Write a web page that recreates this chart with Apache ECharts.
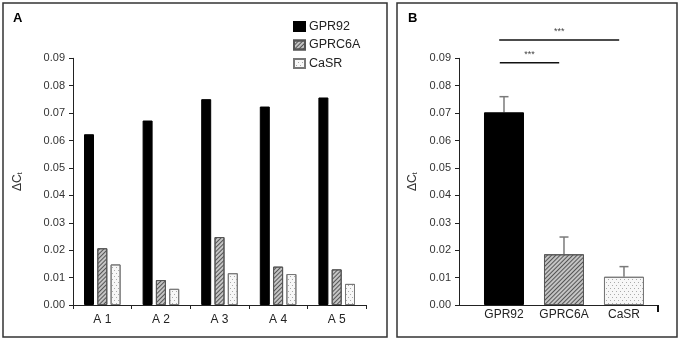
<!DOCTYPE html>
<html><head><meta charset="utf-8">
<script src="https://cdn.jsdelivr.net/npm/echarts@6/dist/echarts.min.js"></script>
<style>html,body{margin:0;padding:0;background:#fff}#c{width:680px;height:341px}</style>
</head><body><div id="c"></div>
<script>
// ---- data ----
var samplesA = ['A 1', 'A 2', 'A 3', 'A 4', 'A 5'];
var gpr92A   = [0.0623, 0.0673, 0.0751, 0.0724, 0.0757];
var gprc6aA  = [0.0207, 0.0091, 0.0248, 0.0140, 0.0130];
var casrA    = [0.0148, 0.0059, 0.0116, 0.0113, 0.0077];
var receptorsB = ['GPR92', 'GPRC6A', 'CaSR'];
var meanB  = [0.0703, 0.0185, 0.0103];
var errB   = [0.0057, 0.0063, 0.0037];
var yTicks = [0.00, 0.01, 0.02, 0.03, 0.04, 0.05, 0.06, 0.07, 0.08, 0.09];
// significance brackets: [fromX, toX, level, label]
var sigB = [[-0.08, 1.92, 0.0967, '***'], [-0.07, 0.92, 0.0884, '***']];

var FONT = '"Liberation Sans", Arial, sans-serif';
var hatch = {symbol: 'rect', symbolSize: 1, dashArrayX: [1, 0], dashArrayY: [1, 1.4], rotation: -Math.PI / 4, color: '#555'};
var dots = {symbol: 'rect', symbolSize: 1, dashArrayX: [[1, 3], [0, 2, 1, 1]], dashArrayY: [1, 1.5], color: '#aaa'};
var styles = [
  {color: '#000', borderColor: '#000', borderWidth: 1},
  {color: '#c4c4c4', borderColor: '#555', borderWidth: 1, decal: hatch},
  {color: '#f7f7f7', borderColor: '#777', borderWidth: 1, decal: dots}
];
var names = ['GPR92', 'GPRC6A', 'CaSR'];
var seriesA = [gpr92A, gprc6aA, casrA];

var bMin = -0.75, bMax = 2.567;

function yAxis(gi, gap) {
  return {
    type: 'value', gridIndex: gi, min: yTicks[0], max: yTicks[yTicks.length - 1], interval: 0.01,
    axisLine: {show: true, onZero: false, lineStyle: {color: '#222', width: 1}},
    axisTick: {show: true, inside: false, length: 4, lineStyle: {color: '#222'}},
    splitLine: {show: false},
    axisLabel: {color: '#333', fontSize: 11, fontFamily: FONT, margin: 8,
      formatter: function (v) { return v.toFixed(2); }},
    name: '{a|ΔC}{b|t}', nameLocation: 'middle', nameRotate: 90, nameGap: gap,
    nameTextStyle: {rich: {
      a: {fontSize: 12, fontFamily: FONT, color: '#333'},
      b: {fontSize: 8, fontFamily: FONT, color: '#333', padding: [5, 0, 0, 0]}
    }}
  };
}

var series = [];
for (var i = 0; i < 3; i++) {
  series.push({
    type: 'bar', name: names[i], xAxisIndex: 0, yAxisIndex: 0,
    data: seriesA[i], barWidth: 10, barGap: '33%',
    itemStyle: styles[i], emphasis: {disabled: true}
  });
}
series.push({
  type: 'bar', name: 'mean', xAxisIndex: 1, yAxisIndex: 1, barWidth: 40,
  data: meanB.map(function (v, k) { return {value: [k, v], itemStyle: styles[k]}; }),
  emphasis: {disabled: true}
});
series.push({
  type: 'custom', name: 'sem', xAxisIndex: 1, yAxisIndex: 1, clip: false,
  data: meanB.map(function (v, k) { return [k, v, v + errB[k]]; }),
  renderItem: function (p, api) {
    var a = api.coord([api.value(0), api.value(1)]);
    var b = api.coord([api.value(0), api.value(2)]);
    var st = {stroke: '#7a7a7a', lineWidth: 1.5};
    return {type: 'group', children: [
      {type: 'line', shape: {x1: a[0], y1: a[1], x2: b[0], y2: b[1]}, style: st},
      {type: 'line', shape: {x1: b[0] - 4.5, y1: b[1], x2: b[0] + 4.5, y2: b[1]}, style: st}
    ]};
  }
});
series.push({
  type: 'custom', name: 'sig', xAxisIndex: 1, yAxisIndex: 1, clip: false,
  data: sigB,
  renderItem: function (p, api) {
    var a = api.coord([api.value(0), api.value(2)]);
    var b = api.coord([api.value(1), api.value(2)]);
    return {type: 'group', children: [
      {type: 'line', shape: {x1: a[0], y1: a[1], x2: b[0], y2: b[1]}, style: {stroke: '#111', lineWidth: 1.5}},
      {type: 'text', x: (a[0] + b[0]) / 2, y: a[1] - 4, style: {text: sigB[p.dataIndex][3], fontSize: 9, fontFamily: FONT, fill: '#444', align: 'center', verticalAlign: 'bottom'}}
    ]};
  }
});

var chart = echarts.init(document.getElementById('c'), null, {renderer: 'canvas'});
chart.setOption({
  animation: false,
  backgroundColor: '#fff',
  textStyle: {fontFamily: FONT},
  grid: [
    {left: 73, top: 58.3, width: 293, height: 246.7},
    {left: 459, top: 58.3, width: 199, height: 246.7}
  ],
  legend: {
    data: names, orient: 'vertical', left: 293, top: 20, padding: 0, itemWidth: 11, itemHeight: 9, itemGap: 5.5,
    icon: 'rect', textStyle: {fontSize: 12.5, fontFamily: FONT, color: '#222', padding: [0, 0, 0, -1]}
  },
  xAxis: [
    {type: 'category', gridIndex: 0, data: samplesA,
      axisLine: {lineStyle: {color: '#222'}},
      axisTick: {show: true, length: 4, alignWithLabel: false, lineStyle: {color: '#222'}},
      axisLabel: {color: '#222', fontSize: 12, fontFamily: FONT, margin: 9}},
    {type: 'value', gridIndex: 1, min: bMin, max: bMax,
      splitLine: {show: false},
      axisLine: {show: true, onZero: false, lineStyle: {color: '#222'}},
      axisTick: {show: true, length: 7, customValues: [bMax], lineStyle: {color: '#111', width: 2}},
      axisLabel: {color: '#222', fontSize: 12, fontFamily: FONT, margin: 4, customValues: [0, 1, 2],
        formatter: function (v) { return receptorsB[Math.round(v)]; }}}
  ],
  yAxis: [yAxis(0, 49), yAxis(1, 40)],
  series: series,
  graphic: [
    {type: 'rect', shape: {x: 3, y: 3, width: 384, height: 334}, style: {fill: 'none', stroke: '#333', lineWidth: 1.5}, z: 10},
    {type: 'rect', shape: {x: 397, y: 3, width: 280, height: 334}, style: {fill: 'none', stroke: '#333', lineWidth: 1.5}, z: 10},
    {type: 'text', x: 13, y: 12, style: {text: 'A', fontSize: 13, fontWeight: 'bold', fontFamily: FONT, fill: '#000'}},
    {type: 'text', x: 408, y: 12, style: {text: 'B', fontSize: 13, fontWeight: 'bold', fontFamily: FONT, fill: '#000'}}
  ]
});
</script>
</body></html>
